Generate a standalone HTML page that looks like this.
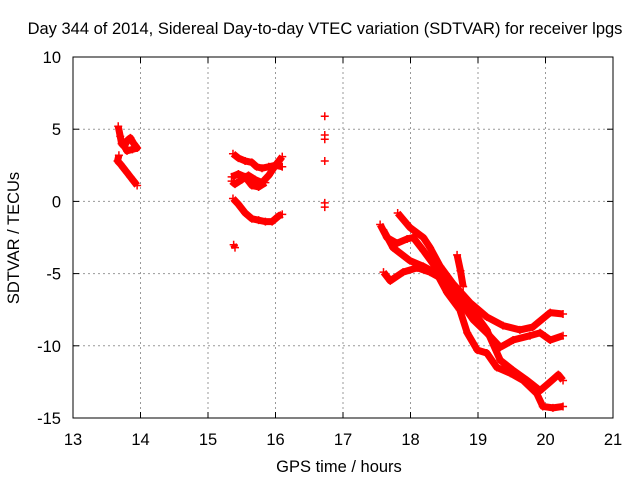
<!DOCTYPE html>
<html><head><meta charset="utf-8"><style>
body{margin:0;background:#fff}
svg text{font-family:"Liberation Sans",sans-serif;font-size:16.5px;fill:#000}
</style></head><body>
<svg id="chart" width="640" height="480">
<rect width="640" height="480" fill="#fff"/>
<text x="325" y="34" text-anchor="middle">Day 344 of 2014, Sidereal Day-to-day VTEC variation (SDTVAR) for receiver lpgs</text>
<text x="339" y="472" text-anchor="middle">GPS time / hours</text>
<text transform="translate(19,238) rotate(-90)" text-anchor="middle">SDTVAR / TECUs</text>
<g id="grid"></g><g id="ticks"></g><g id="marks"></g>
<rect x="73" y="57" width="540" height="361" fill="none" stroke="#000"/>
</svg>
<script>
const xTicks=[13,14,15,16,17,18,19,20,21];
const yTicks=[10,5,0,-5,-10,-15];
const trackA1=[[13.67,5.2],[13.7,4.5],[13.72,4.0],[13.76,3.8],[13.8,4.2],[13.85,4.4],[13.9,4.0],[13.95,3.7],[13.88,3.6],[13.8,3.5],[13.75,3.9]];
const trackA2=[[13.68,3.2],[13.66,2.8],[13.7,2.6],[13.75,2.3],[13.8,2.0],[13.85,1.7],[13.9,1.4],[13.95,1.1]];
const trackB1=[[15.37,3.3],[15.45,3.0],[15.55,2.8],[15.65,2.7],[15.72,2.4],[15.8,2.3],[15.9,2.4],[16.0,2.5],[16.1,2.4]];
const trackB2=[[15.35,1.4],[15.4,1.2],[15.5,1.5],[15.6,1.8],[15.7,1.5],[15.8,1.3],[15.9,1.8],[16.0,2.5],[16.1,3.1]];
const trackB3=[[15.35,1.7],[15.45,1.9],[15.55,1.7],[15.65,1.1],[15.75,1.0],[15.85,1.3]];
const trackB4=[[15.37,0.2],[15.45,-0.2],[15.55,-0.8],[15.65,-1.2],[15.75,-1.3],[15.85,-1.4],[15.95,-1.4],[16.05,-1.0],[16.1,-0.9]];
const trackB5=[[15.38,-3.0],[15.4,-3.2]];
const trackC=[[16.73,5.9],[16.73,4.6],[16.73,4.3],[16.73,2.8],[16.73,-0.1],[16.73,-0.4]];
const trackD1=[[17.81,-0.8],[17.99,-1.8],[18.19,-2.5],[18.29,-3.2],[18.44,-4.5],[18.63,-5.7],[18.88,-7.0],[19.13,-8.0],[19.37,-8.6],[19.62,-8.9],[19.81,-8.7],[20.07,-7.7],[20.26,-7.8]];
const trackD2=[[17.55,-1.6],[17.65,-2.5],[17.8,-2.9],[17.95,-2.6],[18.04,-2.5],[18.19,-3.4],[18.33,-4.3],[18.48,-5.2],[18.69,-6.6],[18.93,-8.2],[19.13,-9.1],[19.33,-10.1],[19.52,-9.6],[19.77,-9.3],[19.92,-9.1],[20.07,-9.6],[20.26,-9.3]];
const trackD3=[[17.6,-2.0],[17.74,-3.2],[17.99,-4.1],[18.19,-4.5],[18.39,-5.0],[18.54,-6.3],[18.73,-7.5],[18.84,-9.1],[18.99,-10.3],[19.13,-10.5],[19.28,-11.5],[19.48,-11.9],[19.67,-12.4],[19.87,-13.3],[19.96,-14.2],[20.11,-14.3],[20.26,-14.2]];
const trackD4=[[17.6,-4.9],[17.7,-5.5],[17.89,-4.9],[18.1,-4.6],[18.29,-4.9],[18.48,-5.4],[18.69,-6.3],[18.88,-7.3],[19.13,-8.9],[19.33,-11.0],[19.52,-11.7],[19.73,-12.4],[19.92,-13.1],[20.07,-12.5],[20.19,-12.0],[20.26,-12.4]];
const trackD5=[[18.69,-3.7],[18.74,-4.8],[18.78,-5.9]];
const tracks=[trackA1,trackA2,trackB1,trackB2,trackB3,trackB4,trackB5,trackC,trackD1,trackD2,trackD3,trackD4,trackD5];
const X0=73,X1=613,Y0=418,Y1=57;
function sx(h){return X0+(h-13)/(21-13)*(X1-X0);}
function sy(v){return Y0-(v+15)/(10+15)*(Y0-Y1);}
const NS='http://www.w3.org/2000/svg';
const grid=document.getElementById('grid'),ticks=document.getElementById('ticks'),marks=document.getElementById('marks');
function mk(tag,attrs,parent){const e=document.createElementNS(NS,tag);for(const k in attrs)e.setAttribute(k,attrs[k]);parent.appendChild(e);return e;}
xTicks.forEach(t=>{const x=sx(t);
 if(t>13&&t<21){const g=mk('line',{x1:x,x2:x,y1:Y1,y2:Y0,stroke:'#999','stroke-dasharray':'2,3'},grid);
 
 }
 mk('line',{x1:x,x2:x,y1:Y0,y2:Y0-6,stroke:'#000'},ticks);mk('line',{x1:x,x2:x,y1:Y1,y2:Y1+6,stroke:'#000'},ticks);
 const l=mk('text',{x:x,y:445,'text-anchor':'middle'},ticks);l.textContent=t;
 
 });
yTicks.forEach(t=>{const y=sy(t);
 if(t>-15&&t<10){const g=mk('line',{x1:X0,x2:X1,y1:y,y2:y,stroke:'#999','stroke-dasharray':'2,3'},grid);
 
 }
 mk('line',{x1:X0,x2:X0+6,y1:y,y2:y,stroke:'#000'},ticks);mk('line',{x1:X1,x2:X1-6,y1:y,y2:y,stroke:'#000'},ticks);
 const l=mk('text',{x:61,y:y+6,'text-anchor':'end'},ticks);l.textContent=t;
 
 });
tracks.forEach(tr=>{
 if(tr.length>1&&tr!==trackC){const p=mk('polyline',{points:tr.map(d=>sx(d[0])+','+sy(d[1])).join(' '),fill:'none',stroke:'#f00','stroke-width':7,'stroke-linejoin':'round'},marks);
 
 }
 tr.forEach(d=>{const x=sx(d[0]),y=sy(d[1]);
  const m=mk('path',{d:`M${x-4},${y}H${x+4}M${x},${y-4}V${y+4}`,stroke:'#f00','stroke-width':1.5},marks);
  
  });
});
</script>
</body></html>
